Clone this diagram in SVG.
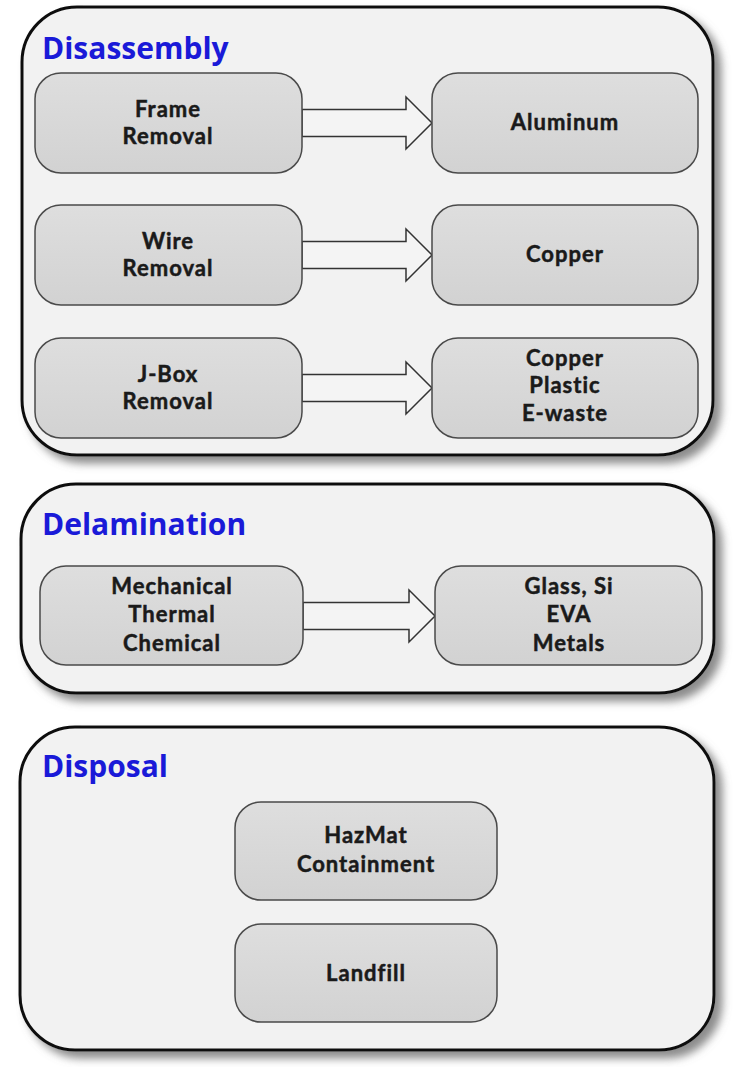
<svg xmlns="http://www.w3.org/2000/svg" width="738" height="1067" viewBox="0 0 738 1067">
<style>
.cont{fill:#f2f2f2;stroke:#111;stroke-width:3}
.node{fill:url(#ng);stroke:#4a4a4a;stroke-width:1.5}
.title{font-family:"Open Sans","Liberation Sans",sans-serif;font-weight:bold;font-size:30px;fill:#1a1ad8}
.lbl{font-family:Lato,"Open Sans","Liberation Sans",sans-serif;font-weight:bold;font-size:22px;letter-spacing:1px;fill:#1a1a1a;stroke:#1a1a1a;stroke-width:0.5;text-anchor:middle}
.arrow{fill:#f4f4f4;stroke:#333;stroke-width:1.5}
</style>
<defs>
<linearGradient id="ng" x1="0" y1="0" x2="0" y2="1">
<stop offset="0" stop-color="#dedede"/>
<stop offset="1" stop-color="#d2d2d2"/>
</linearGradient>
<filter id="sh" x="-5%" y="-5%" width="115%" height="120%">
<feDropShadow dx="7" dy="7" stdDeviation="4" flood-color="#707070" flood-opacity="0.8"/>
</filter>
</defs>
<rect width="738" height="1067" fill="#ffffff"/>

<g id="disassembly">
<rect class="cont" x="22" y="7" width="691" height="448" rx="55" ry="55" filter="url(#sh)"/>
<text class="title" x="42" y="59">Disassembly</text>
</g>
<g id="delamination">
<rect class="cont" x="21" y="484" width="693" height="209" rx="55" ry="55" filter="url(#sh)"/>
<text class="title" x="42" y="535">Delamination</text>
</g>
<g id="disposal">
<rect class="cont" x="20" y="727" width="694" height="323" rx="55" ry="55" filter="url(#sh)"/>
<text class="title" x="42" y="777">Disposal</text>
</g>

<g id="connectors">
<path class="arrow" d="M302,109.5 H406 V97 L432,123 L406,149 V136.5 H302 Z"/>
<path class="arrow" d="M302,241.5 H406 V229 L432,255 L406,281 V268.5 H302 Z"/>
<path class="arrow" d="M302,374.5 H406 V362 L432,388 L406,414 V401.5 H302 Z"/>
<path class="arrow" d="M303,602.5 H409 V590 L435,616 L409,642 V629.5 H303 Z"/>
</g>

<g id="frame-removal">
<rect class="node" x="35" y="73" width="267" height="100" rx="26" ry="26"/>
<text class="lbl" x="168" y="117">Frame</text>
<text class="lbl" x="168" y="144">Removal</text>
</g>
<g id="aluminum">
<rect class="node" x="432" y="73" width="266" height="100" rx="26" ry="26"/>
<text class="lbl" x="565" y="130">Aluminum</text>
</g>
<g id="wire-removal">
<rect class="node" x="35" y="205" width="267" height="100" rx="26" ry="26"/>
<text class="lbl" x="168" y="249">Wire</text>
<text class="lbl" x="168" y="276">Removal</text>
</g>
<g id="copper">
<rect class="node" x="432" y="205" width="266" height="100" rx="26" ry="26"/>
<text class="lbl" x="565" y="262">Copper</text>
</g>
<g id="jbox-removal">
<rect class="node" x="35" y="338" width="267" height="100" rx="26" ry="26"/>
<text class="lbl" x="168" y="382">J-Box</text>
<text class="lbl" x="168" y="409">Removal</text>
</g>
<g id="copper-plastic-ewaste">
<rect class="node" x="432" y="338" width="266" height="100" rx="26" ry="26"/>
<text class="lbl" x="565" y="366">Copper</text>
<text class="lbl" x="565" y="393">Plastic</text>
<text class="lbl" x="565" y="421">E-waste</text>
</g>
<g id="mechanical-thermal-chemical">
<rect class="node" x="40" y="566" width="263" height="99" rx="26" ry="26"/>
<text class="lbl" x="172" y="594">Mechanical</text>
<text class="lbl" x="172" y="622">Thermal</text>
<text class="lbl" x="172" y="651">Chemical</text>
</g>
<g id="glass-eva-metals">
<rect class="node" x="435" y="566" width="267" height="99" rx="26" ry="26"/>
<text class="lbl" x="569" y="594">Glass, Si</text>
<text class="lbl" x="569" y="622">EVA</text>
<text class="lbl" x="569" y="651">Metals</text>
</g>
<g id="hazmat-containment">
<rect class="node" x="235" y="802" width="262" height="98" rx="26" ry="26"/>
<text class="lbl" x="366" y="843">HazMat</text>
<text class="lbl" x="366" y="872">Containment</text>
</g>
<g id="landfill">
<rect class="node" x="235" y="924" width="262" height="98" rx="26" ry="26"/>
<text class="lbl" x="366" y="981">Landfill</text>
</g>
</svg>
